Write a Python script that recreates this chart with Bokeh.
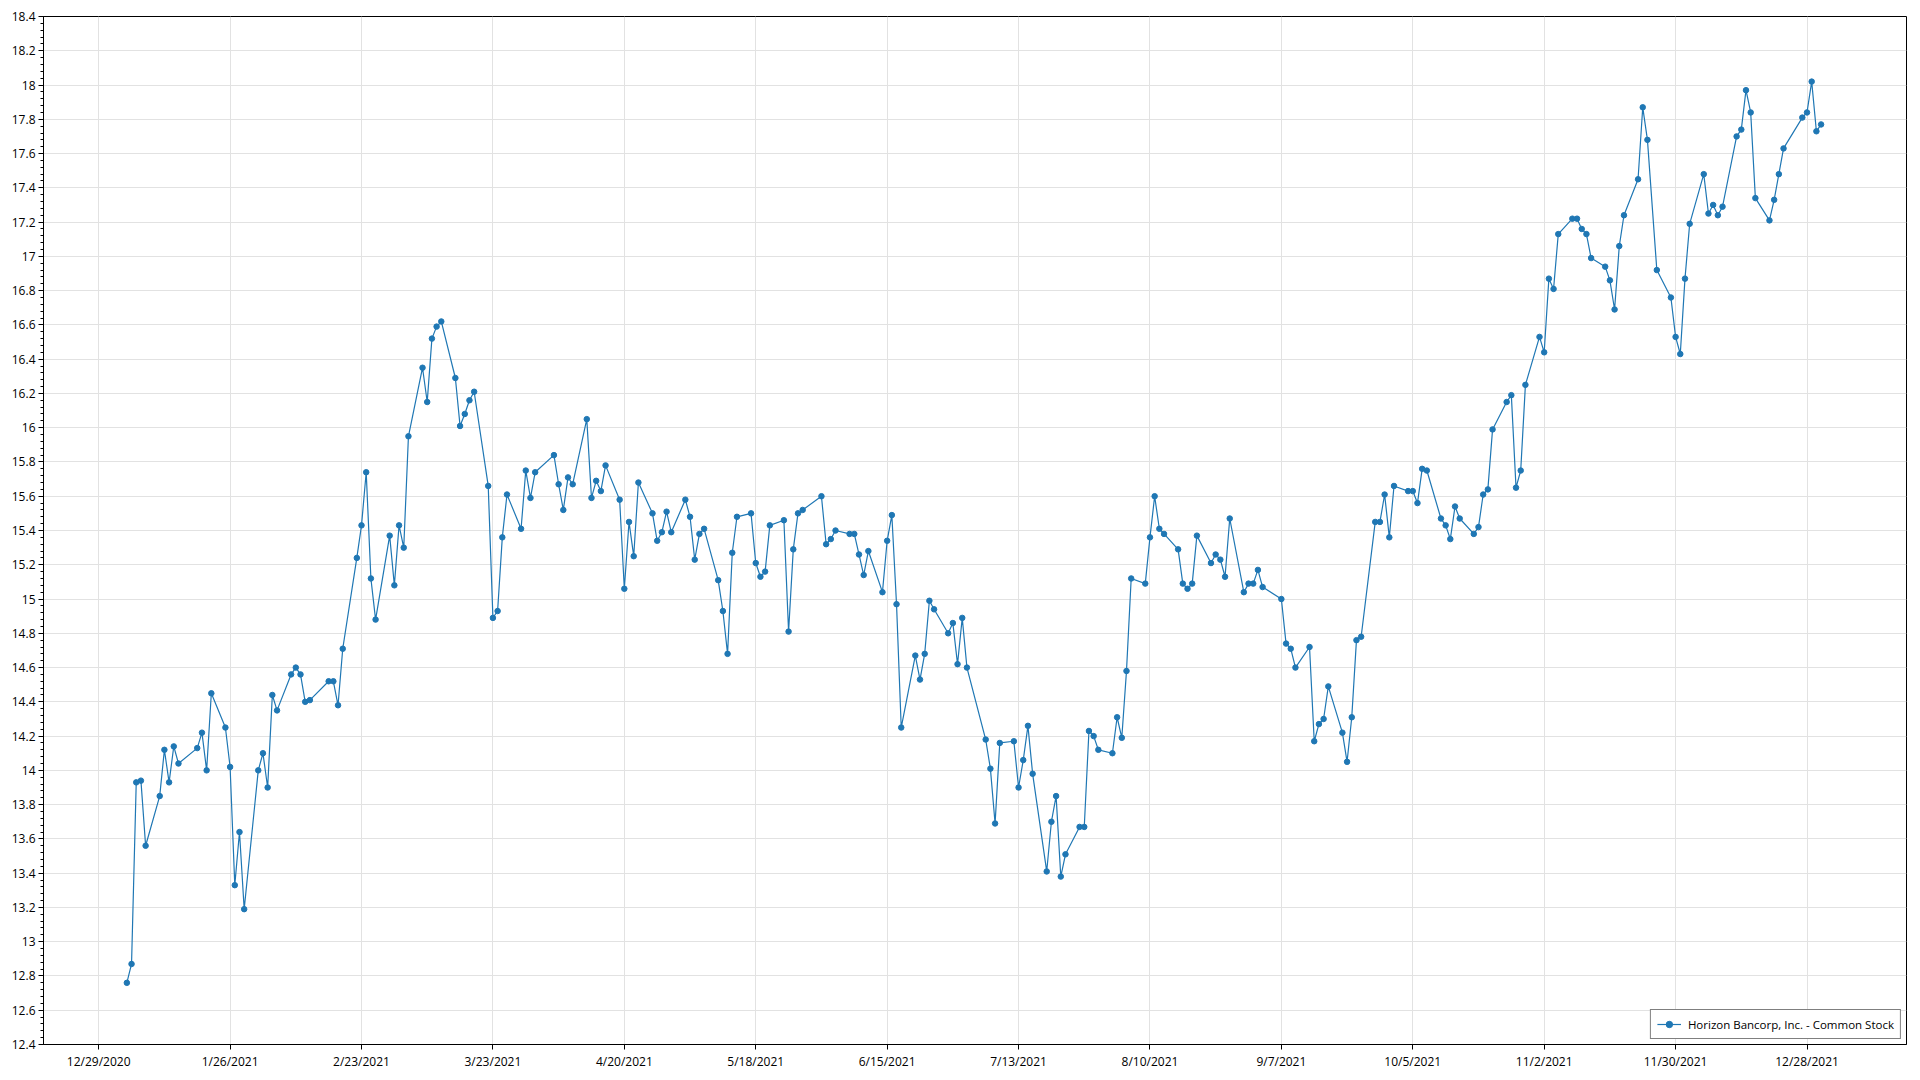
import datetime as dt
from bokeh.plotting import figure
from bokeh.models import (FixedTicker, CustomJSTickFormatter, Range1d, Legend,
                          LegendItem, ColumnDataSource)
from bokeh.embed import file_html
from bokeh.resources import INLINE

series_name = "Horizon Bancorp, Inc. - Common Stock"

# trading days (day of month) and closing prices, per month of 2021
jan_days = [4, 5, 6, 7, 8, 11, 12, 13, 14, 15, 19, 20, 21, 22, 25, 26, 27, 28, 29]
jan_vals = [12.76, 12.87, 13.93, 13.94, 13.56, 13.85, 14.12, 13.93, 14.14, 14.04,
            14.13, 14.22, 14.00, 14.45, 14.25, 14.02, 13.33, 13.64, 13.19]
feb_days = [1, 2, 3, 4, 5, 8, 9, 10, 11, 12, 16, 17, 18, 19, 22, 23, 24, 25, 26]
feb_vals = [14.00, 14.10, 13.90, 14.44, 14.35, 14.56, 14.60, 14.56, 14.40, 14.41,
            14.52, 14.52, 14.38, 14.71, 15.24, 15.43, 15.74, 15.12, 14.88]
mar_days = [1, 2, 3, 4, 5, 8, 9, 10, 11, 12, 15, 16, 17, 18, 19, 22, 23, 24, 25, 26, 29, 30, 31]
mar_vals = [15.37, 15.08, 15.43, 15.30, 15.95, 16.35, 16.15, 16.52, 16.59, 16.62,
            16.29, 16.01, 16.08, 16.16, 16.21, 15.66, 14.89, 14.93, 15.36, 15.61,
            15.41, 15.75, 15.59]
apr_days = [1, 5, 6, 7, 8, 9, 12, 13, 14, 15, 16, 19, 20, 21, 22, 23, 26, 27, 28, 29, 30]
apr_vals = [15.74, 15.84, 15.67, 15.52, 15.71, 15.67, 16.05, 15.59, 15.69, 15.63,
            15.78, 15.58, 15.06, 15.45, 15.25, 15.68, 15.50, 15.34, 15.39, 15.51, 15.39]
may_days = [3, 4, 5, 6, 7, 10, 11, 12, 13, 14, 17, 18, 19, 20, 21, 24, 25, 26, 27, 28]
may_vals = [15.58, 15.48, 15.23, 15.38, 15.41, 15.11, 14.93, 14.68, 15.27, 15.48,
            15.50, 15.21, 15.13, 15.16, 15.43, 15.46, 14.81, 15.29, 15.50, 15.52]
jun_days = [1, 2, 3, 4, 7, 8, 9, 10, 11, 14, 15, 16, 17, 18, 21, 22, 23, 24, 25, 28, 29, 30]
jun_vals = [15.60, 15.32, 15.35, 15.40, 15.38, 15.38, 15.26, 15.14, 15.28, 15.04,
            15.34, 15.49, 14.97, 14.25, 14.67, 14.53, 14.68, 14.99, 14.94, 14.80,
            14.86, 14.62]
jul_days = [1, 2, 6, 7, 8, 9, 12, 13, 14, 15, 16, 19, 20, 21, 22, 23, 26, 27, 28, 29, 30]
jul_vals = [14.89, 14.60, 14.18, 14.01, 13.69, 14.16, 14.17, 13.90, 14.06, 14.26,
            13.98, 13.41, 13.70, 13.85, 13.38, 13.51, 13.67, 13.67, 14.23, 14.20, 14.12]
aug_days = [2, 3, 4, 5, 6, 9, 10, 11, 12, 13, 16, 17, 18, 19, 20, 23, 24, 25, 26, 27, 30, 31]
aug_vals = [14.10, 14.31, 14.19, 14.58, 15.12, 15.09, 15.36, 15.60, 15.41, 15.38,
            15.29, 15.09, 15.06, 15.09, 15.37, 15.21, 15.26, 15.23, 15.13, 15.47,
            15.04, 15.09]
sep_days = [1, 2, 3, 7, 8, 9, 10, 13, 14, 15, 16, 17, 20, 21, 22, 23, 24, 27, 28, 29, 30]
sep_vals = [15.09, 15.17, 15.07, 15.00, 14.74, 14.71, 14.60, 14.72, 14.17, 14.27,
            14.30, 14.49, 14.22, 14.05, 14.31, 14.76, 14.78, 15.45, 15.45, 15.61, 15.36]
oct_days = [1, 4, 5, 6, 7, 8, 11, 12, 13, 14, 15, 18, 19, 20, 21, 22, 25, 26, 27, 28, 29]
oct_vals = [15.66, 15.63, 15.63, 15.56, 15.76, 15.75, 15.47, 15.43, 15.35, 15.54,
            15.47, 15.38, 15.42, 15.61, 15.64, 15.99, 16.15, 16.19, 15.65, 15.75, 16.25]
nov_days = [1, 2, 3, 4, 5, 8, 9, 10, 11, 12, 15, 16, 17, 18, 19, 22, 23, 24, 26, 29, 30]
nov_vals = [16.53, 16.44, 16.87, 16.81, 17.13, 17.22, 17.22, 17.16, 17.13, 16.99,
            16.94, 16.86, 16.69, 17.06, 17.24, 17.45, 17.87, 17.68, 16.92, 16.76, 16.53]
dec_days = [1, 2, 3, 6, 7, 8, 9, 10, 13, 14, 15, 16, 17, 20, 21, 22, 23, 27, 28, 29, 30, 31]
dec_vals = [16.43, 16.87, 17.19, 17.48, 17.25, 17.30, 17.24, 17.29, 17.70, 17.74,
            17.97, 17.84, 17.34, 17.21, 17.33, 17.48, 17.63, 17.81, 17.84, 18.02,
            17.73, 17.77]

x_tick_labels = ["12/29/2020", "1/26/2021", "2/23/2021", "3/23/2021", "4/20/2021",
                 "5/18/2021", "6/15/2021", "7/13/2021", "8/10/2021", "9/7/2021",
                 "10/5/2021", "11/2/2021", "11/30/2021", "12/28/2021"]

months = [(1, jan_days, jan_vals), (2, feb_days, feb_vals), (3, mar_days, mar_vals),
          (4, apr_days, apr_vals), (5, may_days, may_vals), (6, jun_days, jun_vals),
          (7, jul_days, jul_vals), (8, aug_days, aug_vals), (9, sep_days, sep_vals),
          (10, oct_days, oct_vals), (11, nov_days, nov_vals), (12, dec_days, dec_vals)]

dates, prices = [], []
for m, days, vals in months:
    for d, v in zip(days, vals):
        dates.append(dt.datetime(2021, m, d))
        prices.append(v)

EPOCH = dt.datetime(1970, 1, 1)
def ms(d):
    return (d - EPOCH).total_seconds() * 1000.0

DAY = 86400000.0
src = ColumnDataSource(data=dict(x=[ms(d) for d in dates], y=prices))

tick_ms = [ms(dt.datetime.strptime(s, "%m/%d/%Y")) for s in x_tick_labels]

x_start = ms(dt.datetime(2021, 1, 4)) - 17.76 * DAY
x_end = ms(dt.datetime(2021, 1, 4)) + 379.2 * DAY

p = figure(width=1912, height=1072, output_backend="svg", toolbar_location=None,
           x_axis_type="datetime",
           x_range=Range1d(x_start, x_end), y_range=Range1d(12.4, 18.4),
           min_border_left=43, min_border_right=6, min_border_top=16, min_border_bottom=28)

p.background_fill_color = "white"
p.border_fill_color = "white"
p.outline_line_color = "black"
p.outline_line_width = 1
p.outline_line_alpha = 1

# axes
xa = p.xaxis[0]
xa.ticker = FixedTicker(ticks=tick_ms, minor_ticks=[])
xa.formatter = CustomJSTickFormatter(code="""
const d = new Date(tick);
return (d.getUTCMonth()+1) + "/" + d.getUTCDate() + "/" + d.getUTCFullYear();
""")
ya = p.yaxis[0]
y_major = [round(12.4 + 0.2 * i, 2) for i in range(31)]
y_minor = [round(12.4 + 0.04 * i, 3) for i in range(151)]
ya.ticker = FixedTicker(ticks=y_major, minor_ticks=y_minor)
ya.formatter = CustomJSTickFormatter(code="return String(Math.round(tick*10)/10);")

for ax in (xa, ya):
    ax.axis_line_color = "black"
    ax.axis_line_width = 1
    ax.major_tick_line_color = "black"
    ax.minor_tick_line_color = "black"
    ax.major_tick_out = 5
    ax.major_tick_in = 0
    ax.minor_tick_out = 3
    ax.minor_tick_in = 0
    ax.major_label_text_font = "Open Sans"
    ax.major_label_text_font_size = "12px"
    ax.major_label_text_color = "black"
    ax.major_label_standoff = 3

p.xgrid.grid_line_color = "#e2e2e2"
p.ygrid.grid_line_color = "#e2e2e2"
p.xgrid.ticker = xa.ticker
p.ygrid.ticker = ya.ticker

color = "#1f77b4"
ln = p.line("x", "y", source=src, line_color=color, line_width=1.2)
sc = p.scatter("x", "y", source=src, size=5.5, fill_color=color, line_color=color)

legend = Legend(items=[LegendItem(label=series_name, renderers=[ln, sc])],
                location="bottom_right")
legend.border_line_color = "black"
legend.border_line_width = 1
legend.background_fill_color = "white"
legend.background_fill_alpha = 1
legend.padding = 6
legend.spacing = 0
legend.margin = 5
legend.glyph_width = 24
legend.glyph_height = 16
legend.label_height = 16
legend.label_standoff = 7
legend.label_text_font = "Open Sans"
legend.label_text_font_size = "11.5px"
legend.label_text_color = "black"
p.add_layout(legend)

open("out.html", "w").write(file_html(p, INLINE))
